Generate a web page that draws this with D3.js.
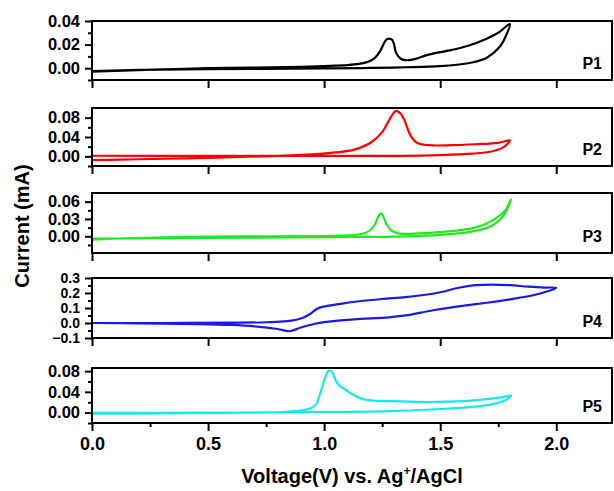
<!DOCTYPE html>
<html>
<head>
<meta charset="utf-8">
<script src="https://cdn.jsdelivr.net/npm/d3@7"></script>
<style>
body { margin: 0; background: #fff; }
svg text { font-family: "Liberation Sans", Arial, sans-serif; font-weight: bold; fill: #000; }
</style>
</head>
<body>
<script>
"use strict";

// panel names and line colours
const panelNames = ["P1", "P2", "P3", "P4", "P5"];
const lineColors = ["#000000", "#ff0000", "#22e822", "#1a1ae8", "#14eaea"];

// x axis (voltage)
const xTicks = [0, 0.5, 1.0, 1.5, 2.0];
const xMinorTicks = [0.25, 0.75, 1.25, 1.75];

// y axes (current, mA)
const yDomains = [[-0.01, 0.04], [-0.02, 0.10], [-0.029, 0.075], [-0.1, 0.3], [-0.02, 0.086]];
const yTicks = [[0, 0.02, 0.04], [0, 0.04, 0.08], [0, 0.03, 0.06], [-0.1, 0, 0.1, 0.2, 0.3], [0, 0.04, 0.08]];
const yMinorTicks = [[-0.01, 0.01, 0.03], [-0.02, 0.02, 0.06], [-0.015, 0.015, 0.045], [-0.05, 0.05, 0.15, 0.25], [-0.02, 0.02, 0.06]];
const yTickDigits = [2, 2, 2, 1, 2];

// CV loops as [V, I]: forward scan then reverse scan
const p1 = [
  [0, -0.003], [0.1, -0.0022], [0.3, -0.001], [0.5, 0.0], [0.7, 0.0006], [0.9, 0.0012],
  [1.0, 0.0018], [1.1, 0.0026], [1.15, 0.0036], [1.19, 0.0055], [1.22, 0.009], [1.24, 0.014],
  [1.26, 0.022], [1.27, 0.0245], [1.29, 0.0245], [1.30, 0.021], [1.31, 0.013], [1.33, 0.008],
  [1.35, 0.0068], [1.38, 0.0072], [1.45, 0.0115], [1.55, 0.0155], [1.62, 0.019], [1.70, 0.025],
  [1.75, 0.030], [1.80, 0.0375],
  [1.78, 0.026], [1.76, 0.019], [1.73, 0.013], [1.69, 0.0078], [1.62, 0.0042], [1.5, 0.0018],
  [1.35, 0.0008], [1.2, 0.0002], [1.0, -0.0002], [0.5, -0.0008], [0.2, -0.0015], [0.0, -0.0025]
];
const p2 = [
  [0, -0.008], [0.2, -0.006], [0.5, -0.003], [0.8, 0.001], [0.95, 0.004], [1.05, 0.008],
  [1.13, 0.014], [1.2, 0.028], [1.25, 0.05], [1.28, 0.075], [1.30, 0.09], [1.31, 0.094],
  [1.33, 0.088], [1.35, 0.07], [1.37, 0.045], [1.40, 0.028], [1.45, 0.023], [1.55, 0.023],
  [1.65, 0.025], [1.75, 0.028], [1.80, 0.033],
  [1.77, 0.018], [1.72, 0.010], [1.64, 0.0055], [1.5, 0.0025], [1.3, 0.001], [1.0, 0.0008],
  [0.5, 0.0008], [0, 0.0012]
];
const p3 = [
  [0, -0.006], [0.1, -0.004], [0.3, -0.002], [0.5, -0.0005], [0.8, 0.0], [1.0, 0.0005],
  [1.1, 0.0015], [1.15, 0.003], [1.19, 0.008], [1.215, 0.018], [1.235, 0.035], [1.245, 0.04],
  [1.255, 0.034], [1.27, 0.02], [1.29, 0.01], [1.32, 0.005], [1.36, 0.004], [1.45, 0.006],
  [1.55, 0.009], [1.64, 0.014], [1.70, 0.022], [1.75, 0.034], [1.78, 0.045], [1.805, 0.064],
  [1.78, 0.04], [1.75, 0.026], [1.72, 0.018], [1.64, 0.0085], [1.55, 0.004], [1.47, 0.0017],
  [1.3, -0.0005], [1.0, -0.0015], [0.5, -0.003], [0.0, -0.004]
];
const p4 = [
  [0, 0], [0.3, 0.0], [0.6, 0.002], [0.75, 0.005], [0.84, 0.012], [0.9, 0.03], [0.94, 0.06],
  [0.97, 0.095], [1.0, 0.11], [1.07, 0.128], [1.15, 0.145], [1.25, 0.16], [1.35, 0.172],
  [1.42, 0.185], [1.5, 0.205], [1.58, 0.235], [1.65, 0.252], [1.72, 0.256], [1.80, 0.252],
  [1.88, 0.242], [1.95, 0.236], [2.0, 0.235],
  [1.97, 0.215], [1.9, 0.185], [1.8, 0.158], [1.7, 0.135], [1.6, 0.115], [1.47, 0.085],
  [1.36, 0.052], [1.28, 0.038], [1.13, 0.024], [1.0, 0.006], [0.96, -0.005], [0.9, -0.03],
  [0.85, -0.055], [0.8, -0.04], [0.7, -0.022], [0.6, -0.013], [0.45, -0.007], [0.2, -0.002], [0, 0]
];
const p5 = [
  [0, -0.002], [0.3, -0.0015], [0.6, -0.0005], [0.8, 0.001], [0.9, 0.004], [0.94, 0.008],
  [0.965, 0.016], [0.985, 0.04], [1.005, 0.068], [1.02, 0.081], [1.035, 0.078], [1.05, 0.062],
  [1.065, 0.052], [1.09, 0.045], [1.12, 0.036], [1.16, 0.027], [1.2, 0.0235], [1.3, 0.022],
  [1.45, 0.0205], [1.6, 0.022], [1.7, 0.026], [1.77, 0.030], [1.805, 0.033],
  [1.78, 0.024], [1.72, 0.016], [1.64, 0.011], [1.47, 0.0063], [1.3, 0.003], [0.96, 0.0013],
  [0.5, 0.0], [0, -0.0005]
];
const loops = [p1, p2, p3, p4, p5];

const width = 614;
const height = 491;
const left = 92;
const right = 612;
// panel top / bottom in pixels
const panelTops = [21, 108, 193, 278, 368];
const panelBottoms = [80, 166, 253, 338, 423];

let svg = d3.select("body").append("svg")
    .attr("width", width)
    .attr("height", height);

let x = d3.scaleLinear()
    .domain([0, 2.24])
    .range([left, right]);

panelNames.forEach(function(name, i) {
    let top = panelTops[i], bottom = panelBottoms[i];
    let y = d3.scaleLinear()
        .domain(yDomains[i])
        .range([bottom, top]);

    let g = svg.append("g");

    g.append("clipPath")
        .attr("id", "clip" + i)
      .append("rect")
        .attr("x", left).attr("y", top)
        .attr("width", right - left).attr("height", bottom - top);

    let line = d3.line()
        .x(d => x(d[0]))
        .y(d => y(d[1]))
        .curve(d3.curveCatmullRom.alpha(0.5));

    g.append("path")
        .datum(loops[i])
        .attr("clip-path", "url(#clip" + i + ")")
        .attr("d", line)
        .style("fill", "none")
        .style("stroke", lineColors[i])
        .style("stroke-width", 2.2)
        .style("stroke-linejoin", "round");

    // y axis major + minor
    let fmt = d3.format("." + yTickDigits[i] + "f");
    let ay = g.append("g")
        .attr("transform", "translate(" + left + ",0)")
        .call(d3.axisLeft(y).tickValues(yTicks[i]).tickSize(7).tickPadding(5).tickFormat(fmt));
    // P4 has five labels in the same height, so they are set tighter
    ay.selectAll("text")
        .style("font-size", yTicks[i].length > 3 ? "14px" : "16.5px")
        .attr("dy", yTicks[i].length > 3 ? "0.34em" : "0.32em");
    g.append("g")
        .attr("transform", "translate(" + left + ",0)")
        .call(d3.axisLeft(y).tickValues(yMinorTicks[i]).tickSize(4).tickFormat(""));

    // x axis ticks under each panel
    let last = i === panelNames.length - 1;
    let ax = g.append("g")
        .attr("transform", "translate(0," + bottom + ")")
        .call(d3.axisBottom(x).tickValues(xTicks).tickSize(8).tickPadding(6)
            .tickFormat(last ? d3.format(".1f") : ""));
    ax.selectAll("text").style("font-size", "18px");
    if (last) {
        g.append("g")
            .attr("transform", "translate(0," + bottom + ")")
            .call(d3.axisBottom(x).tickValues(xMinorTicks).tickSize(4).tickFormat(""));
    }

    g.selectAll(".domain").remove();
    g.selectAll(".tick line").style("stroke", "#000").style("stroke-width", 2);

    g.append("rect")
        .attr("x", left).attr("y", top)
        .attr("width", right - left).attr("height", bottom - top)
        .style("fill", "none")
        .style("stroke", "#000")
        .style("stroke-width", 2);

    g.append("text")
        .attr("x", right - 10)
        .attr("y", bottom - 11)
        .attr("text-anchor", "end")
        .style("font-size", "16px")
        .text(name);
});

// axis titles
let xt = svg.append("text")
    .attr("x", (left + right) / 2)
    .attr("y", 483)
    .attr("text-anchor", "middle")
    .style("font-size", "20px");
xt.append("tspan").text("Voltage(V) vs. Ag");
xt.append("tspan").attr("dy", -8).style("font-size", "12px").text("+");
xt.append("tspan").attr("dy", 8).text("/AgCl");

svg.append("text")
    .attr("transform", "translate(29,226) rotate(-90)")
    .attr("text-anchor", "middle")
    .style("font-size", "20px")
    .text("Current (mA)");
</script>
</body>
</html>
